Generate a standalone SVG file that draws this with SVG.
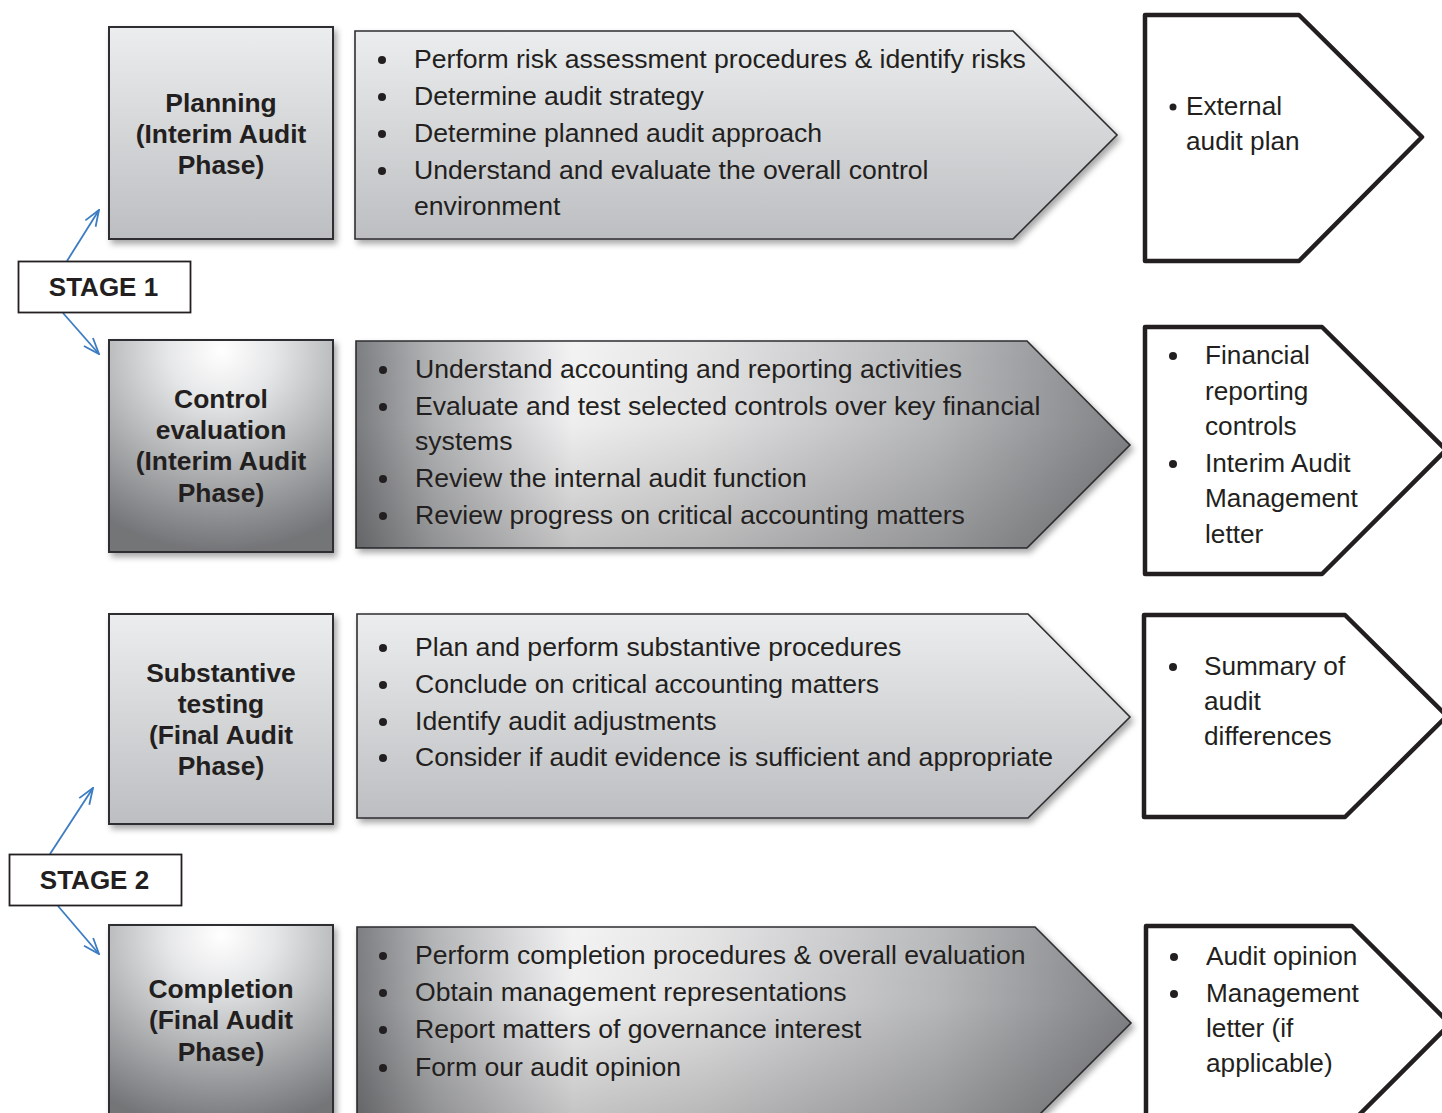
<svg xmlns="http://www.w3.org/2000/svg" width="1442" height="1113" viewBox="0 0 1442 1113">
<defs>
<style>
.lbl{font-family:"Liberation Sans",Arial,sans-serif;font-weight:bold;font-size:26.4px;fill:#231f20;text-anchor:middle}
.stg{font-family:"Liberation Sans",Arial,sans-serif;font-weight:bold;font-size:26px;fill:#231f20;text-anchor:middle}
.itm{font-family:"Liberation Sans",Arial,sans-serif;font-size:26.6px;fill:#231f20}
.out{font-family:"Liberation Sans",Arial,sans-serif;font-size:26.2px;fill:#231f20}
.box{stroke:#2e2e30;stroke-width:2}
.arw{stroke:#2e2e30;stroke-width:1.6}
.pent{fill:#fff;stroke:#231f20;stroke-width:4.5;stroke-linejoin:round}
.stagebox{fill:#fff;stroke:#231f20;stroke-width:1.8}
.con{stroke:#3b7cc2;stroke-width:1.8;fill:none}
.dot{fill:#231f20}
</style>
<linearGradient id="gLight" x1="0" y1="0" x2="0" y2="1">
<stop offset="0" stop-color="#ecedee"/>
<stop offset="1" stop-color="#bdbec1"/>
</linearGradient>
<radialGradient id="gBoxDark" cx="0.5" cy="0.05" r="0.95" fx="0.5" fy="0.05">
<stop offset="0" stop-color="#ffffff"/>
<stop offset="0.25" stop-color="#e6e7e8"/>
<stop offset="1" stop-color="#737477"/>
</radialGradient>
<linearGradient id="gArrDark" x1="0" y1="0" x2="1" y2="0">
<stop offset="0" stop-color="#7d7e81"/>
<stop offset="0.1" stop-color="#b4b5b7"/>
<stop offset="0.28" stop-color="#f3f3f4"/>
<stop offset="0.45" stop-color="#e4e4e5"/>
<stop offset="0.75" stop-color="#b9babc"/>
<stop offset="1" stop-color="#838487"/>
</linearGradient>
<linearGradient id="gShade" x1="0" y1="0" x2="0" y2="1">
<stop offset="0" stop-color="#000" stop-opacity="0"/>
<stop offset="0.4" stop-color="#000" stop-opacity="0.02"/>
<stop offset="1" stop-color="#000" stop-opacity="0.2"/>
</linearGradient>
<filter id="sh" x="-10%" y="-10%" width="125%" height="125%">
<feDropShadow dx="3" dy="4" stdDeviation="3" flood-color="#000" flood-opacity="0.35"/>
</filter>
<marker id="ah" viewBox="0 0 18 14" refX="17" refY="7" markerWidth="18" markerHeight="14" orient="auto" markerUnits="userSpaceOnUse">
<path d="M1,1 L17,7 L1,13" fill="none" stroke="#3b7cc2" stroke-width="1.8"/>
</marker>
</defs>
<rect width="1442" height="1113" fill="#fff"/>

<g id="connectors">
<line class="con" x1="67" y1="261" x2="99" y2="210" marker-end="url(#ah)"/>
<line class="con" x1="63" y1="313" x2="99" y2="354" marker-end="url(#ah)"/>
<line class="con" x1="50" y1="854" x2="93" y2="788" marker-end="url(#ah)"/>
<line class="con" x1="58" y1="906" x2="99" y2="954" marker-end="url(#ah)"/>
</g>

<g id="stage1">
<rect class="stagebox" x="18.5" y="261.5" width="172" height="51"/>
<text class="stg" x="103.5" y="296">STAGE 1</text>
</g>
<g id="stage2">
<rect class="stagebox" x="9.5" y="854.5" width="172" height="51"/>
<text class="stg" x="94.5" y="889">STAGE 2</text>
</g>

<g id="planning">
<rect class="box" x="109" y="27" width="224" height="212" fill="url(#gLight)" filter="url(#sh)"/>
<text class="lbl" x="221" y="112">Planning</text>
<text class="lbl" x="221" y="143">(Interim Audit</text>
<text class="lbl" x="221" y="174">Phase)</text>
</g>
<g id="planning-tasks">
<polygon class="arw" points="355,31 1013,31 1117,135 1013,239 355,239" fill="url(#gLight)" filter="url(#sh)"/>
<circle class="dot" cx="382" cy="60" r="4"/>
<circle class="dot" cx="382" cy="97" r="4"/>
<circle class="dot" cx="382" cy="134" r="4"/>
<circle class="dot" cx="382" cy="171" r="4"/>
<text class="itm" x="414" y="68">Perform risk assessment procedures &amp; identify risks</text>
<text class="itm" x="414" y="105">Determine audit strategy</text>
<text class="itm" x="414" y="142">Determine planned audit approach</text>
<text class="itm" x="414" y="179">Understand and evaluate the overall control</text>
<text class="itm" x="414" y="215">environment</text>
</g>
<g id="planning-output">
<polygon class="pent" points="1145,15 1299,15 1422,137 1299,261 1145,261"/>
<circle class="dot" cx="1173" cy="107" r="3.5"/>
<text class="out" x="1186" y="115">External</text>
<text class="out" x="1186" y="150">audit plan</text>
</g>

<g id="control">
<rect class="box" x="109" y="340" width="224" height="212" fill="url(#gBoxDark)" filter="url(#sh)"/>
<text class="lbl" x="221" y="408">Control</text>
<text class="lbl" x="221" y="439">evaluation</text>
<text class="lbl" x="221" y="470">(Interim Audit</text>
<text class="lbl" x="221" y="502">Phase)</text>
</g>
<g id="control-tasks">
<polygon class="arw" points="356,341 1027,341 1130,445 1027,548 356,548" fill="url(#gArrDark)" filter="url(#sh)"/>
<polygon points="356,341 1027,341 1130,445 1027,548 356,548" fill="url(#gShade)"/>
<circle class="dot" cx="383" cy="370" r="4"/>
<circle class="dot" cx="383" cy="407" r="4"/>
<circle class="dot" cx="383" cy="479" r="4"/>
<circle class="dot" cx="383" cy="516" r="4"/>
<text class="itm" x="415" y="378">Understand accounting and reporting activities</text>
<text class="itm" x="415" y="415">Evaluate and test selected controls over key financial</text>
<text class="itm" x="415" y="450">systems</text>
<text class="itm" x="415" y="487">Review the internal audit function</text>
<text class="itm" x="415" y="524">Review progress on critical accounting matters</text>
</g>
<g id="control-output">
<polygon class="pent" points="1145,327 1322,327 1446,450 1322,574 1145,574"/>
<circle class="dot" cx="1173" cy="356" r="4"/>
<circle class="dot" cx="1173" cy="464" r="4"/>
<text class="out" x="1205" y="364">Financial</text>
<text class="out" x="1205" y="400">reporting</text>
<text class="out" x="1205" y="435">controls</text>
<text class="out" x="1205" y="472">Interim Audit</text>
<text class="out" x="1205" y="507">Management</text>
<text class="out" x="1205" y="543">letter</text>
</g>

<g id="substantive">
<rect class="box" x="109" y="614" width="224" height="210" fill="url(#gLight)" filter="url(#sh)"/>
<text class="lbl" x="221" y="682">Substantive</text>
<text class="lbl" x="221" y="713">testing</text>
<text class="lbl" x="221" y="744">(Final Audit</text>
<text class="lbl" x="221" y="775">Phase)</text>
</g>
<g id="substantive-tasks">
<polygon class="arw" points="357,614 1028,614 1130,717 1028,818 357,818" fill="url(#gLight)" filter="url(#sh)"/>
<circle class="dot" cx="383" cy="648" r="4"/>
<circle class="dot" cx="383" cy="685" r="4"/>
<circle class="dot" cx="383" cy="722" r="4"/>
<circle class="dot" cx="383" cy="758" r="4"/>
<text class="itm" x="415" y="656">Plan and perform substantive procedures</text>
<text class="itm" x="415" y="693">Conclude on critical accounting matters</text>
<text class="itm" x="415" y="730">Identify audit adjustments</text>
<text class="itm" x="415" y="766">Consider if audit evidence is sufficient and appropriate</text>
</g>
<g id="substantive-output">
<polygon class="pent" points="1144,615 1345,615 1447,716 1345,817 1144,817"/>
<circle class="dot" cx="1173" cy="667" r="4"/>
<text class="out" x="1204" y="675">Summary of</text>
<text class="out" x="1204" y="710">audit</text>
<text class="out" x="1204" y="745">differences</text>
</g>

<g id="completion">
<rect class="box" x="109" y="925" width="224" height="205" fill="url(#gBoxDark)" filter="url(#sh)"/>
<text class="lbl" x="221" y="998">Completion</text>
<text class="lbl" x="221" y="1029">(Final Audit</text>
<text class="lbl" x="221" y="1061">Phase)</text>
</g>
<g id="completion-tasks">
<polygon class="arw" points="357,927 1035,927 1131,1023 1035,1119 357,1119" fill="url(#gArrDark)" filter="url(#sh)"/>
<polygon points="357,927 1035,927 1131,1023 1035,1119 357,1119" fill="url(#gShade)"/>
<circle class="dot" cx="383" cy="956" r="4"/>
<circle class="dot" cx="383" cy="993" r="4"/>
<circle class="dot" cx="383" cy="1030" r="4"/>
<circle class="dot" cx="383" cy="1068" r="4"/>
<text class="itm" x="415" y="964">Perform completion procedures &amp; overall evaluation</text>
<text class="itm" x="415" y="1001">Obtain management representations</text>
<text class="itm" x="415" y="1038">Report matters of governance interest</text>
<text class="itm" x="415" y="1076">Form our audit opinion</text>
</g>
<g id="completion-output">
<polygon class="pent" points="1146,926 1352,926 1450,1024 1352,1122 1146,1122"/>
<circle class="dot" cx="1174" cy="957" r="4"/>
<circle class="dot" cx="1174" cy="994" r="4"/>
<text class="out" x="1206" y="965">Audit opinion</text>
<text class="out" x="1206" y="1002">Management</text>
<text class="out" x="1206" y="1037">letter (if</text>
<text class="out" x="1206" y="1072">applicable)</text>
</g>
</svg>
